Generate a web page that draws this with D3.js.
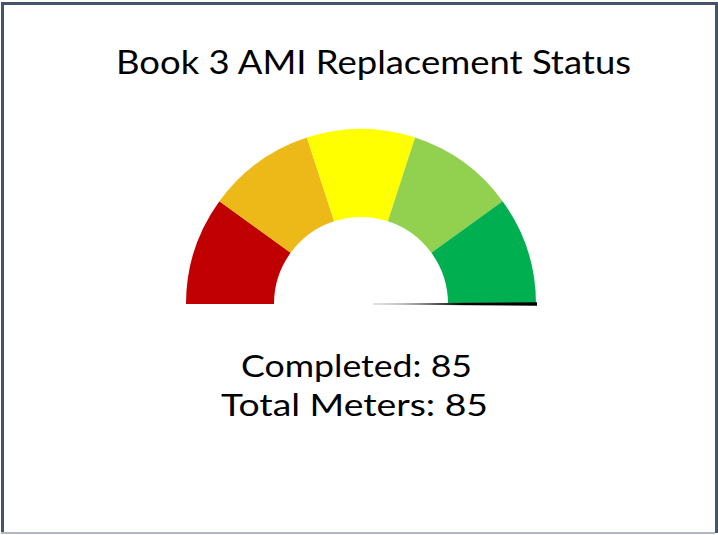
<!DOCTYPE html>
<html>
<head>
<meta charset="utf-8">
<script src="https://cdn.jsdelivr.net/npm/d3@7"></script>
<style>
  html, body { margin: 0; padding: 0; background: #fff; }
  svg { display: block; }
</style>
</head>
<body>
<div id="gauge"></div>
<script>
// data
var title = "Book 3 AMI Replacement Status";
var bandColors = ["#C00000", "#EDB918", "#FFFF00", "#92D050", "#00B050"];
var bandStops = [0, 17, 34, 51, 68, 85];   // equal fifths of the total
var completed = 85;
var totalMeters = 85;
var labels = ["Completed: " + completed, "Total Meters: " + totalMeters];

var W = 718, H = 535;
var cx = 361, cy = 304, rOuter = 175, rInner = 87;

var svg = d3.select("#gauge")
    .append("svg")
        .attr("width", W)
        .attr("height", H);

// frame
svg.append("rect")
    .attr("x", 0).attr("y", 0).attr("width", W).attr("height", H)
    .attr("fill", "#fff");
svg.append("path")
    .attr("d", "M2.5," + (H - 2) + " L2.5,3.5 L" + (W - 1.5) + ",3.5 L" + (W - 1.5) + "," + (H - 2))
    .attr("fill", "none")
    .attr("stroke", "#44546A")
    .attr("stroke-width", 3);
svg.append("line")
    .attr("x1", 1).attr("x2", W - 3).attr("y1", H - 2).attr("y2", H - 2)
    .attr("stroke", "#B0B7C0")
    .attr("stroke-width", 2);

// value -> angle (radians, 0 = up)
var angle = d3.scaleLinear()
    .domain([0, totalMeters])
    .range([-Math.PI / 2, Math.PI / 2]);

var arc = d3.arc()
    .innerRadius(rInner)
    .outerRadius(rOuter);

var g = svg.append("g")
    .attr("transform", "translate(" + cx + "," + cy + ")");

g.selectAll("path.band")
    .data(bandColors)
    .enter()
    .append("path")
        .attr("class", "band")
        .attr("d", function (d, i) {
            return arc({ startAngle: angle(bandStops[i]), endAngle: angle(bandStops[i + 1]) });
        })
        .attr("fill", function (d) { return d; });

// needle, tapered and fading toward the hub
var a = angle(completed) - Math.PI / 2;   // svg angle from +x
var ux = Math.cos(a), uy = Math.sin(a), nx = -uy, ny = ux;
var r0 = 12, r1 = rOuter + 1;

var grad = svg.append("defs")
    .append("linearGradient")
        .attr("id", "needleGrad")
        .attr("gradientUnits", "userSpaceOnUse")
        .attr("x1", r0 * ux).attr("y1", r0 * uy)
        .attr("x2", r1 * ux).attr("y2", r1 * uy);
grad.append("stop").attr("offset", "0").attr("stop-color", "#c8c8c8");
grad.append("stop").attr("offset", "0.2").attr("stop-color", "#a0a0a0");
grad.append("stop").attr("offset", "0.4").attr("stop-color", "#505050");
grad.append("stop").attr("offset", "0.55").attr("stop-color", "#000");
grad.append("stop").attr("offset", "1").attr("stop-color", "#000");

var needle = [
    [r0 * ux + 0.6 * nx, r0 * uy + 0.6 * ny],
    [r1 * ux + 1.8 * nx, r1 * uy + 1.8 * ny],
    [r1 * ux - 1.8 * nx, r1 * uy - 1.8 * ny],
    [r0 * ux - 0.6 * nx, r0 * uy - 0.6 * ny]
];
g.append("path")
    .attr("d", d3.line()(needle) + "Z")
    .attr("fill", "url(#needleGrad)");

// texts: size from cap height, stretched to the reference widths
var font = "Lato, 'Open Sans', sans-serif";
function fitText(str, x0, x1, baseline, size) {
    return svg.append("text")
        .attr("x", (x0 + x1) / 2)
        .attr("y", baseline)
        .attr("textLength", x1 - x0)
        .attr("lengthAdjust", "spacingAndGlyphs")
        .style("text-anchor", "middle")
        .style("font-family", font)
        .style("font-size", size + "px")
        .attr("fill", "#000")
        .text(str);
}
fitText(title, 116, 631, 74, 33);
fitText(labels[0], 241, 472, 377, 31);
fitText(labels[1], 221, 488, 416, 31);
</script>
</body>
</html>
